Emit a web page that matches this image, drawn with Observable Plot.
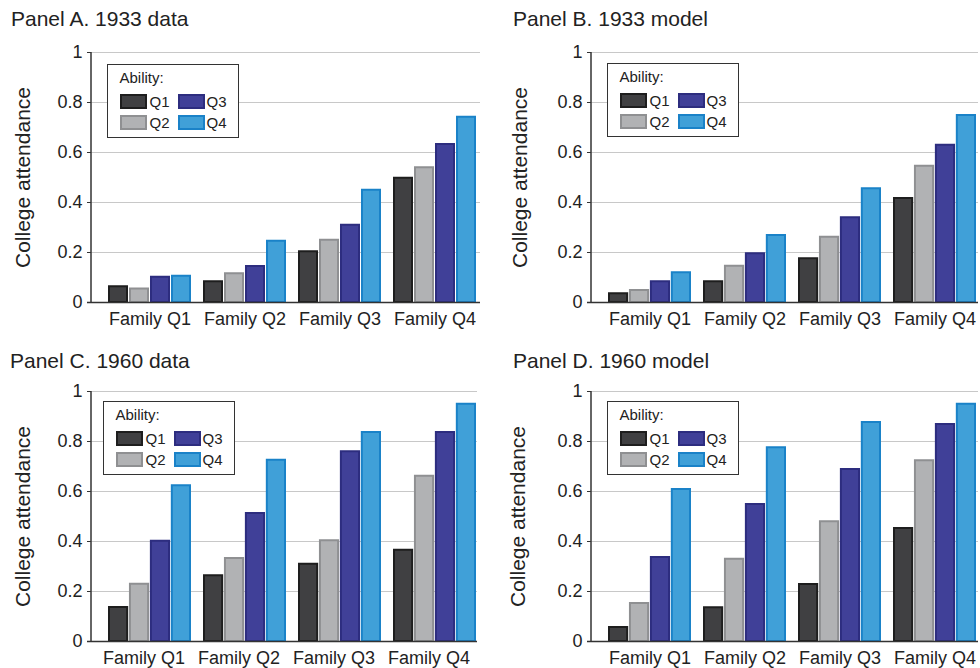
<!DOCTYPE html>
<html><head><meta charset="utf-8">
<script src="https://cdn.jsdelivr.net/npm/d3@7"></script>
<script src="https://cdn.jsdelivr.net/npm/@observablehq/plot@0.6"></script>
<style>
body{margin:0;background:#fff;font-family:"Liberation Sans",Arial,Helvetica,sans-serif;}
#root{position:relative;width:980px;height:668px;overflow:hidden;background:#fff}
.panel{position:absolute}
.title{position:absolute;font-size:21px;line-height:21px;color:#222;white-space:nowrap}
.legend{position:absolute;border:1.5px solid #333;background:#fff;box-sizing:border-box;width:132px;height:74px;color:#222}
.legend .hd{position:absolute;font-size:15px;line-height:15px;left:11.5px;top:5px}
.legend .sw{position:absolute;width:27px;height:15px;box-sizing:border-box;border:2px solid}
.legend .lb{position:absolute;font-size:15px;line-height:15px}
</style></head><body><div id="root"></div><script>
const families = ["Family Q1","Family Q2","Family Q3","Family Q4"];
const abilities = ["Q1","Q2","Q3","Q4"];
const yTicks = [0,0.2,0.4,0.6,0.8,1];
const gridTicks = [0.2,0.4,0.6,0.8,1];
const panelTitles = ["Panel A. 1933 data","Panel B. 1933 model","Panel C. 1960 data","Panel D. 1960 model"];
const yLabel = "College attendance";
const legendTitle = "Ability:";
// rows: family Q1..Q4, columns: ability Q1..Q4
const panelA = [[0.067,0.058,0.105,0.109],[0.087,0.119,0.148,0.249],[0.207,0.253,0.313,0.453],[0.501,0.543,0.636,0.745]];
const panelB = [[0.039,0.052,0.087,0.123],[0.087,0.149,0.199,0.272],[0.179,0.265,0.343,0.459],[0.420,0.549,0.633,0.752]];
const panelC = [[0.140,0.233,0.405,0.627],[0.267,0.336,0.516,0.729],[0.313,0.407,0.763,0.840],[0.369,0.665,0.840,0.953]];
const panelD = [[0.060,0.156,0.340,0.612],[0.139,0.333,0.552,0.779],[0.232,0.483,0.692,0.880],[0.456,0.727,0.872,0.953]];
const fills = ["#404042","#b1b2b4","#404098","#40a0d8"];
const strokes = ["#1e1e1e","#8f9092","#2d2d7f","#1a82c8"];

const layouts = [
  {left:0,   top:34,  width:490, height:298, ml:91,  mr:10, mt:18, mb:30, range:[107,478], tx:11, ty:8,   lx:107, ly:64,  xdx:0,  ydx:-68},
  {left:490, top:34,  width:490, height:298, ml:101, mr:2,  mt:18, mb:30, range:[117,487], tx:23, ty:8,   lx:117, ly:63,  xdx:0,  ydx:-71},
  {left:0,   top:373, width:490, height:295, ml:91,  mr:13, mt:18, mb:27, range:[107,477], tx:10, ty:350, lx:103, ly:401, xdx:-6, ydx:-68},
  {left:490, top:373, width:490, height:295, ml:101, mr:2,  mt:18, mb:27, range:[117,487], tx:23, ty:350, lx:117, ly:401, xdx:0,  ydx:-73}
];
const panels = [panelA, panelB, panelC, panelD];
const root = document.getElementById("root");
const P = 0.122;

panels.forEach((vals, pi) => {
  const L = layouts[pi];
  const rows = [];
  families.forEach((f, i) => abilities.forEach((a, j) => rows.push({family:f, ability:a, value:vals[i][j]})));
  const bw = d3.scaleBand().domain(families).range(L.range).paddingInner(P).paddingOuter(0).bandwidth();
  const q = bw / 4;
  const axisLine = (index, scales, values, dims) => {
    const ln = d3.create("svg:line")
      .attr("x1", dims.marginLeft).attr("x2", dims.marginLeft)
      .attr("y1", dims.marginTop).attr("y2", dims.height - dims.marginBottom + 1)
      .attr("stroke", "#333").attr("stroke-width", 1.5);
    return ln.node();
  };
  const marks = [
    Plot.ruleY(gridTicks, {stroke:"#c8c8c8", strokeWidth:1.2}),
    ...abilities.map((a, k) => Plot.barY(rows.filter(d => d.ability === a), {
      x:"family", y:"value", fill:fills[k], stroke:strokes[k], strokeWidth:2,
      insetLeft: k*q + 1, insetRight: (3-k)*q + 1, insetTop: 1
    })),
    Plot.ruleY([0], {stroke:"#333", strokeWidth:1.5, insetLeft:-4}),
    axisLine,
    Plot.axisY({ticks:yTicks, tickFormat:d => String(d), tickSize:4, tickPadding:5, label:null, stroke:"#333"}),
    Plot.axisX({tickSize:0, tickPadding:10, label:null, dx:L.xdx}),
    Plot.text([yLabel], {frameAnchor:"left", textAnchor:"middle", lineAnchor:"middle", rotate:-90, dx:L.ydx, fontSize:21, fill:"#222"})
  ];
  const chart = Plot.plot({
    width:L.width, height:L.height,
    marginLeft:L.ml, marginRight:L.mr, marginTop:L.mt, marginBottom:L.mb,
    x:{domain:families, range:L.range, paddingInner:P, paddingOuter:0, label:null},
    y:{domain:[0,1], label:null},
    style:{fontFamily:'"Liberation Sans",Arial,sans-serif', fontSize:"18px", color:"#222", background:"white", overflow:"visible"},
    marks
  });
  const wrap = document.createElement("div");
  wrap.className = "panel";
  wrap.style.left = L.left + "px"; wrap.style.top = L.top + "px";
  wrap.appendChild(chart);
  root.appendChild(wrap);

  const t = document.createElement("div");
  t.className = "title";
  t.style.left = (L.left + L.tx) + "px";
  t.style.top = L.ty + "px";
  t.textContent = panelTitles[pi];
  root.appendChild(t);

  const lg = document.createElement("div");
  lg.className = "legend";
  lg.style.left = (L.left + L.lx) + "px"; lg.style.top = L.ly + "px";
  const hd = document.createElement("div"); hd.className = "hd"; hd.textContent = legendTitle; lg.appendChild(hd);
  abilities.forEach((a, k) => {
    const col = Math.floor(k / 2), row = k % 2;
    const sw = document.createElement("div"); sw.className = "sw";
    sw.style.left = (11.5 + col*58) + "px"; sw.style.top = (28.5 + row*21) + "px";
    sw.style.background = fills[k]; sw.style.borderColor = strokes[k];
    lg.appendChild(sw);
    const lb = document.createElement("div"); lb.className = "lb";
    lb.style.left = (41.5 + col*57) + "px"; lb.style.top = (28.5 + row*21) + "px";
    lb.textContent = a;
    lg.appendChild(lb);
  });
  root.appendChild(lg);
});
</script></body></html>
